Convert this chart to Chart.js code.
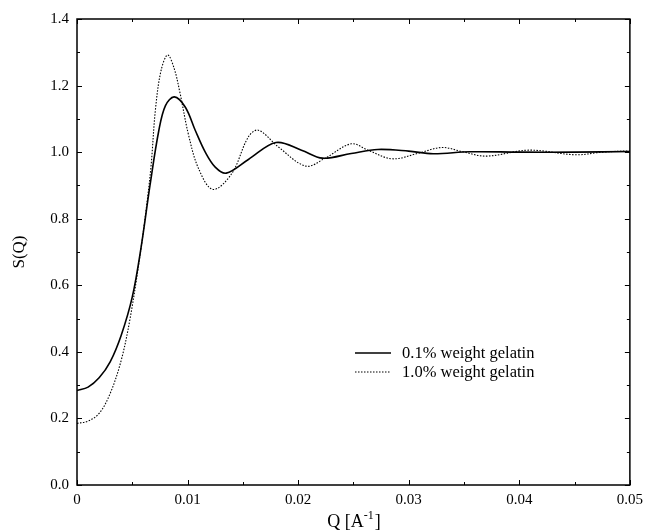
<!DOCTYPE html>
<html>
<head>
<meta charset="utf-8">
<script src="https://cdn.jsdelivr.net/npm/chart.js@4/dist/chart.umd.min.js"></script>
<style>
  html, body { margin: 0; padding: 0; background: #fff; }
  #wrap { width: 649px; height: 531px; }
</style>
</head>
<body>
<div id="wrap"><canvas id="chart" width="649" height="531"></canvas></div>
<script>
// S(Q) curves
const qSolid = [0, 0.001, 0.002, 0.003, 0.004, 0.005, 0.0058, 0.0066, 0.0074, 0.008, 0.0088,
    0.0098, 0.0107, 0.0116, 0.0125, 0.0135, 0.0155, 0.018, 0.0203, 0.0222, 0.0248, 0.0272, 0.030,
    0.0322, 0.0355, 0.040, 0.045, 0.050];
const sSolid = [0.284, 0.294, 0.322, 0.37, 0.45, 0.565, 0.715, 0.9, 1.065, 1.14, 1.166,
    1.135, 1.065, 1.0, 0.955, 0.937, 0.978, 1.029, 1.006, 0.982, 0.996, 1.008, 1.003,
    0.995, 1.001, 1.0, 1.0, 1.002];

const qDotted = [0, 0.001, 0.002, 0.003, 0.004, 0.0048, 0.0057, 0.0063, 0.0067, 0.0071, 0.0076, 0.0082,
    0.0088, 0.0093, 0.0101, 0.011, 0.0123, 0.014, 0.0155, 0.0164, 0.0182, 0.0207, 0.0224,
    0.0248, 0.0263, 0.0285, 0.0308, 0.033, 0.0349, 0.037, 0.0409, 0.0451, 0.0475, 0.050];
const sDotted = [0.185, 0.192, 0.215, 0.275, 0.375, 0.5, 0.69, 0.84, 0.96, 1.13, 1.245, 1.292,
    1.25, 1.18, 1.05, 0.95, 0.888, 0.936, 1.046, 1.066, 1.016, 0.958, 0.981,
    1.025, 1.006, 0.98, 0.996, 1.014, 1.001, 0.988, 1.006, 0.992, 1.0, 1.004];

const seriesLabels = ['0.1% weight gelatin', '1.0% weight gelatin'];

const xMajorTicks = [0, 0.01, 0.02, 0.03, 0.04, 0.05];
const xMinorTicks = [0.005, 0.015, 0.025, 0.035, 0.045];
const yMajorTicks = [0, 0.2, 0.4, 0.6, 0.8, 1.0, 1.2, 1.4];
const yMinorTicks = [0.1, 0.3, 0.5, 0.7, 0.9, 1.1, 1.3];

const FONT = '"Liberation Serif", "Times New Roman", serif';

function toPoints(xs, ys) {
    return xs.map((q, i) => ({ x: q, y: ys[i] }));
}

// inward ticks on all four sides plus the frame
const frameTicks = {
    id: 'frameTicks',
    afterDraw(chart) {
        const { ctx, chartArea: { left, right, top, bottom }, scales: { x, y } } = chart;
        ctx.save();
        ctx.strokeStyle = '#000';
        ctx.lineWidth = 1;
        ctx.beginPath();
        const tick = (px, len, vertical) => {
            if (vertical) {
                ctx.moveTo(px, bottom); ctx.lineTo(px, bottom - len);
                ctx.moveTo(px, top); ctx.lineTo(px, top + len);
            } else {
                ctx.moveTo(left, px); ctx.lineTo(left + len, px);
                ctx.moveTo(right, px); ctx.lineTo(right - len, px);
            }
        };
        xMajorTicks.forEach(v => tick(Math.round(x.getPixelForValue(v)) + 0.5, 5, true));
        xMinorTicks.forEach(v => tick(Math.round(x.getPixelForValue(v)) + 0.5, 3, true));
        yMajorTicks.forEach(v => tick(Math.round(y.getPixelForValue(v)) + 0.5, 5, false));
        yMinorTicks.forEach(v => tick(Math.round(y.getPixelForValue(v)) + 0.5, 3, false));
        ctx.stroke();
        ctx.lineWidth = 1.5;
        ctx.strokeRect(left, top, right - left, bottom - top);
        ctx.restore();
    }
};

// legend inside the plot + axis titles
const annotations = {
    id: 'annotations',
    afterDraw(chart) {
        const { ctx, chartArea: { left, right, top, bottom } } = chart;
        ctx.save();
        ctx.fillStyle = '#000';
        ctx.strokeStyle = '#000';

        // legend
        const lx0 = 355, lx1 = 391, tx = 402;
        const rows = [353, 372];
        chart.data.datasets.forEach((ds, i) => {
            ctx.beginPath();
            ctx.lineWidth = ds.borderWidth;
            ctx.setLineDash(ds.borderDash || []);
            ctx.moveTo(lx0, rows[i]);
            ctx.lineTo(lx1, rows[i]);
            ctx.stroke();
            ctx.setLineDash([]);
            ctx.font = '16.5px ' + FONT;
            ctx.textBaseline = 'middle';
            ctx.textAlign = 'left';
            ctx.fillText(ds.label, tx, rows[i] + 1);
        });

        // x title with superscript
        ctx.textBaseline = 'alphabetic';
        const main = 'Q [A';
        const sup = '-1';
        const close = ']';
        ctx.font = '18px ' + FONT;
        const wMain = ctx.measureText(main).width;
        const wClose = ctx.measureText(close).width;
        ctx.font = '12px ' + FONT;
        const wSup = ctx.measureText(sup).width;
        const cx = (left + right) / 2;
        const xs = cx - (wMain + wSup + wClose) / 2;
        const base = 527;
        ctx.font = '18px ' + FONT;
        ctx.fillText(main, xs, base);
        ctx.font = '12px ' + FONT;
        ctx.fillText(sup, xs + wMain, base - 8);
        ctx.font = '18px ' + FONT;
        ctx.fillText(close, xs + wMain + wSup + 1, base);

        // y title
        ctx.translate(24, (top + bottom) / 2);
        ctx.rotate(-Math.PI / 2);
        ctx.textAlign = 'center';
        ctx.textBaseline = 'alphabetic';
        ctx.font = '17px ' + FONT;
        ctx.fillText('S(Q)', 0, 0);
        ctx.restore();
    }
};

new Chart(document.getElementById('chart'), {
    type: 'line',
    data: {
        datasets: [{
            label: seriesLabels[0],
            data: toPoints(qSolid, sSolid),
            borderColor: '#000',
            borderWidth: 1.6,
            pointRadius: 0,
            tension: 0.35,
            fill: false
        }, {
            label: seriesLabels[1],
            data: toPoints(qDotted, sDotted),
            borderColor: '#000',
            borderWidth: 1.1,
            borderDash: [1.5, 1.5],
            pointRadius: 0,
            tension: 0.35,
            fill: false
        }]
    },
    options: {
        responsive: false,
        animation: false,
        layout: { padding: { top: 19, right: 14, left: 0, bottom: 0 } },
        plugins: {
            legend: { display: false },
            tooltip: { enabled: false }
        },
        scales: {
            x: {
                type: 'linear',
                min: 0,
                max: 0.05,
                afterFit: scale => { scale.height = 46; },
                afterBuildTicks: scale => { scale.ticks = xMajorTicks.map(v => ({ value: v })); },
                ticks: {
                    color: '#000',
                    padding: 6,
                    font: { family: FONT, size: 15 },
                    callback: v => v === 0 ? '0' : v.toFixed(2)
                },
                grid: { display: false, drawTicks: false },
                border: { display: false }
            },
            y: {
                min: 0,
                max: 1.4,
                afterFit: scale => { scale.width = 77; },
                afterBuildTicks: scale => { scale.ticks = yMajorTicks.map(v => ({ value: v })); },
                ticks: {
                    color: '#000',
                    padding: 8,
                    font: { family: FONT, size: 15 },
                    callback: v => v.toFixed(1)
                },
                grid: { display: false, drawTicks: false },
                border: { display: false }
            }
        }
    },
    plugins: [frameTicks, annotations]
});
</script>
</body>
</html>
